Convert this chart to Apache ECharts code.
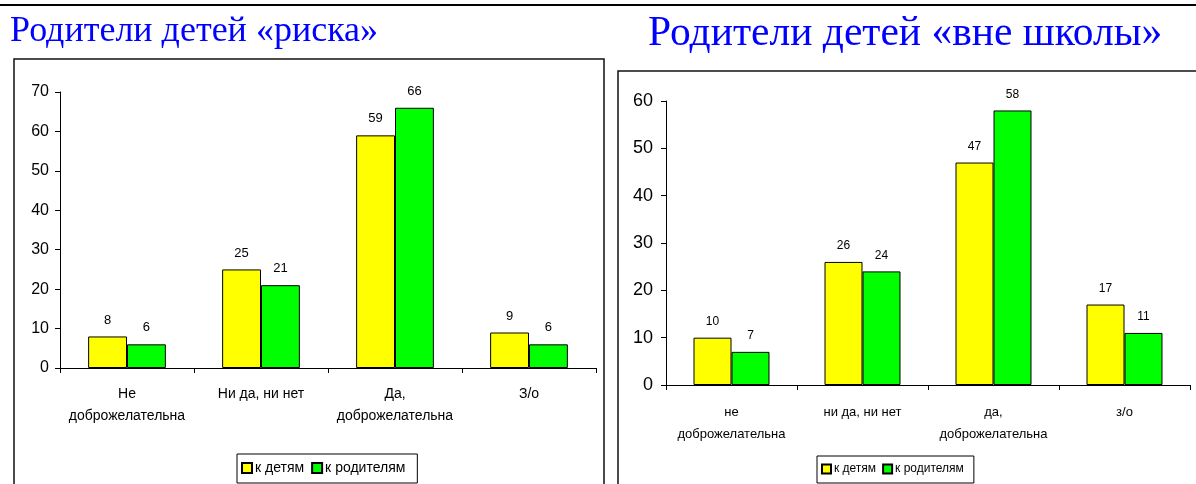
<!DOCTYPE html>
<html>
<head>
<meta charset="utf-8">
<script src="https://cdn.jsdelivr.net/npm/echarts@6/dist/echarts.min.js"></script>
<style>
html,body{margin:0;padding:0;background:#fff;}
#c{width:1196px;height:484px;}
</style>
</head>
<body>
<div id="c"></div>
<script>
// Data
const titleLeft = 'Родители детей «риска»';
const titleRight = 'Родители детей «вне школы»';
const catsLeft = ['Не\nдоброжелательна', 'Ни да, ни нет', 'Да,\nдоброжелательна', 'З/о'];
const catsRight = ['не\nдоброжелательна', 'ни да, ни нет', 'да,\nдоброжелательна', 'з/о'];
const seriesNames = ['к детям', 'к родителям'];
const leftChildren = [8, 25, 59, 9];
const leftParents = [6, 21, 66, 6];
const rightChildren = [10, 26, 47, 17];
const rightParents = [7, 24, 58, 11];
const leftMax = 70;
const rightMax = 60;

const chart = echarts.init(document.getElementById('c'), null, {renderer: 'canvas'});
const sans = 'Liberation Sans, Arial, sans-serif';
const serif = 'Liberation Serif, Times New Roman, serif';
const yellow = '#ffff00';
const green = '#00ff00';

function axisX(idx, cats, fs, margin) {
  return {
    type: 'category', gridIndex: idx, data: cats,
    axisLine: {lineStyle: {color: '#000', width: 1}},
    axisTick: {show: true, length: 5, lineStyle: {color: '#000'}},
    axisLabel: {color: '#000', fontFamily: sans, fontSize: fs, margin: margin, lineHeight: 22, interval: 0}
  };
}
function axisY(idx, max, fs, margin) {
  return {
    type: 'value', gridIndex: idx, min: 0, max: max, interval: 10,
    axisLine: {show: true, lineStyle: {color: '#000', width: 1}},
    axisTick: {show: true, length: 5, lineStyle: {color: '#000'}},
    splitLine: {show: false},
    axisLabel: {color: '#000', fontFamily: sans, fontSize: fs, margin: margin}
  };
}
function bar(name, idx, data, color, fs, dist) {
  return {
    type: 'bar', name: name, xAxisIndex: idx, yAxisIndex: idx, data: data,
    barGap: '0%', barCategoryGap: '42%',
    itemStyle: {color: color, borderColor: '#000', borderWidth: 1},
    label: {show: true, position: 'top', distance: dist, color: '#000', fontFamily: sans, fontSize: fs},
    emphasis: {disabled: true}
  };
}

chart.setOption({
  animation: false,
  backgroundColor: '#fff',
  grid: [
    {left: 60, top: 92, width: 536, height: 276},
    {left: 666, top: 101, width: 524, height: 284}
  ],
  xAxis: [axisX(0, catsLeft, 14, 15), axisX(1, catsRight, 13, 16)],
  yAxis: [axisY(0, leftMax, 16, 11), axisY(1, rightMax, 18, 13)],
  legend: [
    {data: seriesNames, left: 237, top: 454, orient: 'horizontal', icon: 'rect', itemWidth: 10, itemHeight: 10, itemGap: 7,
     padding: [7, 12, 8, 4], borderColor: '#000', borderWidth: 1,
     textStyle: {color: '#000', fontFamily: sans, fontSize: 14, padding: [0, 0, 0, -2]}},
    {data: seriesNames, left: 817, top: 456, orient: 'horizontal', icon: 'rect', itemWidth: 9, itemHeight: 9, itemGap: 6,
     padding: [7, 10, 8, 4], borderColor: '#000', borderWidth: 1,
     textStyle: {color: '#000', fontFamily: sans, fontSize: 12, padding: [0, 0, 0, -2]}}
  ],
  graphic: [
    {type: 'rect', shape: {x: 0, y: 4, width: 1196, height: 2}, style: {fill: '#000'}},
    {type: 'rect', shape: {x: 14, y: 59, width: 590, height: 440}, style: {fill: 'none', stroke: '#111', lineWidth: 1.5}, z: -1},
    {type: 'rect', shape: {x: 618, y: 71, width: 600, height: 440}, style: {fill: 'none', stroke: '#111', lineWidth: 1.5}, z: -1},
    {type: 'text', left: 10, top: 14, style: {text: titleLeft, fill: '#0000ff', font: '36px ' + serif}},
    {type: 'text', left: 648, top: 13, style: {text: titleRight, fill: '#0000ff', font: '41.5px ' + serif}}
  ],
  series: [
    bar(seriesNames[0], 0, leftChildren, yellow, 13, 10),
    bar(seriesNames[1], 0, leftParents, green, 13, 10),
    bar(seriesNames[0], 1, rightChildren, yellow, 12, 10),
    bar(seriesNames[1], 1, rightParents, green, 12, 10)
  ]
});
</script>
</body>
</html>
